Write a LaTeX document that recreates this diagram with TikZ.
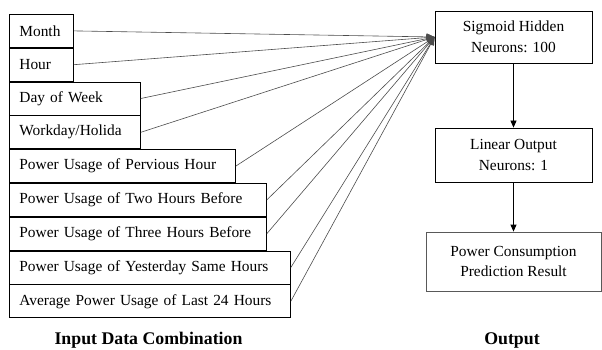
\documentclass[tikz,border=0pt]{standalone}
\usepackage{fontspec}
\setmainfont{Liberation Serif}
\usetikzlibrary{arrows.meta,positioning}

\begin{document}
\begin{tikzpicture}[x=1pt, y=-1pt, font=\fontsize{15.4}{20.5}\selectfont,
  line width=0.8pt,
  inbox/.style={draw, anchor=north west, minimum height=33pt, inner xsep=10pt, align=left},
  netbox/.style={draw, minimum width=157pt, minimum height=52pt, align=center},
  feed/.style={-{Triangle[length=8pt,width=7pt]}, gray!60!black, line width=0.6pt}]
  \useasboundingbox (0,0) rectangle (602,350);

  % input features
  \node[inbox, text width=44pt] (month) at (9,14) {Month};
  \node[inbox, text width=44pt] (hour) at (month.south west) {Hour};
  \node[inbox, text width=111pt] (dow) at (hour.south west) {Day of Week};
  \node[inbox, text width=111pt] (workday) at (dow.south west) {Workday/Holida};
  \node[inbox, text width=206pt] (prev1) at (workday.south west) {Power Usage of Pervious Hour};
  \node[inbox, text width=237pt] (prev2) at (prev1.south west) {Power Usage of Two Hours Before};
  \node[inbox, text width=237pt] (prev3) at (prev2.south west) {Power Usage of Three Hours Before};
  \node[inbox, text width=261pt] (yday) at (prev3.south west) {Power Usage of Yesterday Same Hours};
  \node[inbox, text width=261pt] (avg) at (yday.south west) {Average Power Usage of Last 24 Hours};

  % network
  \node[netbox] (hidden) at (513.5,37) {Sigmoid Hidden\\Neurons: 100};
  \node[netbox, minimum height=54pt] (linear) at (513.5,155) {Linear Output\\Neurons: 1};
  \node[netbox, draw=gray!70!black, minimum width=175pt, minimum height=59pt] (result) at (513.5,261.5)
    {Power Consumption\\Prediction Result};

  \draw[feed] (month.east) -- (hidden.west);
  \draw[feed] (hour.east) -- (hidden.west);
  \draw[feed] (dow.east) -- (hidden.west);
  \draw[feed] (workday.east) -- (hidden.west);
  \draw[feed] (prev1.east) -- (hidden.west);
  \draw[feed] (prev2.east) -- (hidden.west);
  \draw[feed] (prev3.east) -- (hidden.west);
  \draw[feed] (yday.east) -- (hidden.west);
  \draw[feed] (avg.east) -- (hidden.west);

  \draw[-{Triangle[length=7pt,width=6pt]}] (hidden) -- (linear);
  \draw[-{Triangle[length=7pt,width=6pt]}] (linear) -- (result);

  \node[font=\fontsize{17.8}{21}\selectfont\bfseries] (inlabel) at (148.5,340) {Input Data Combination};
  \node[font=\fontsize{17.8}{21}\selectfont\bfseries] (outlabel) at (512,340) {Output};
\end{tikzpicture}
\end{document}
